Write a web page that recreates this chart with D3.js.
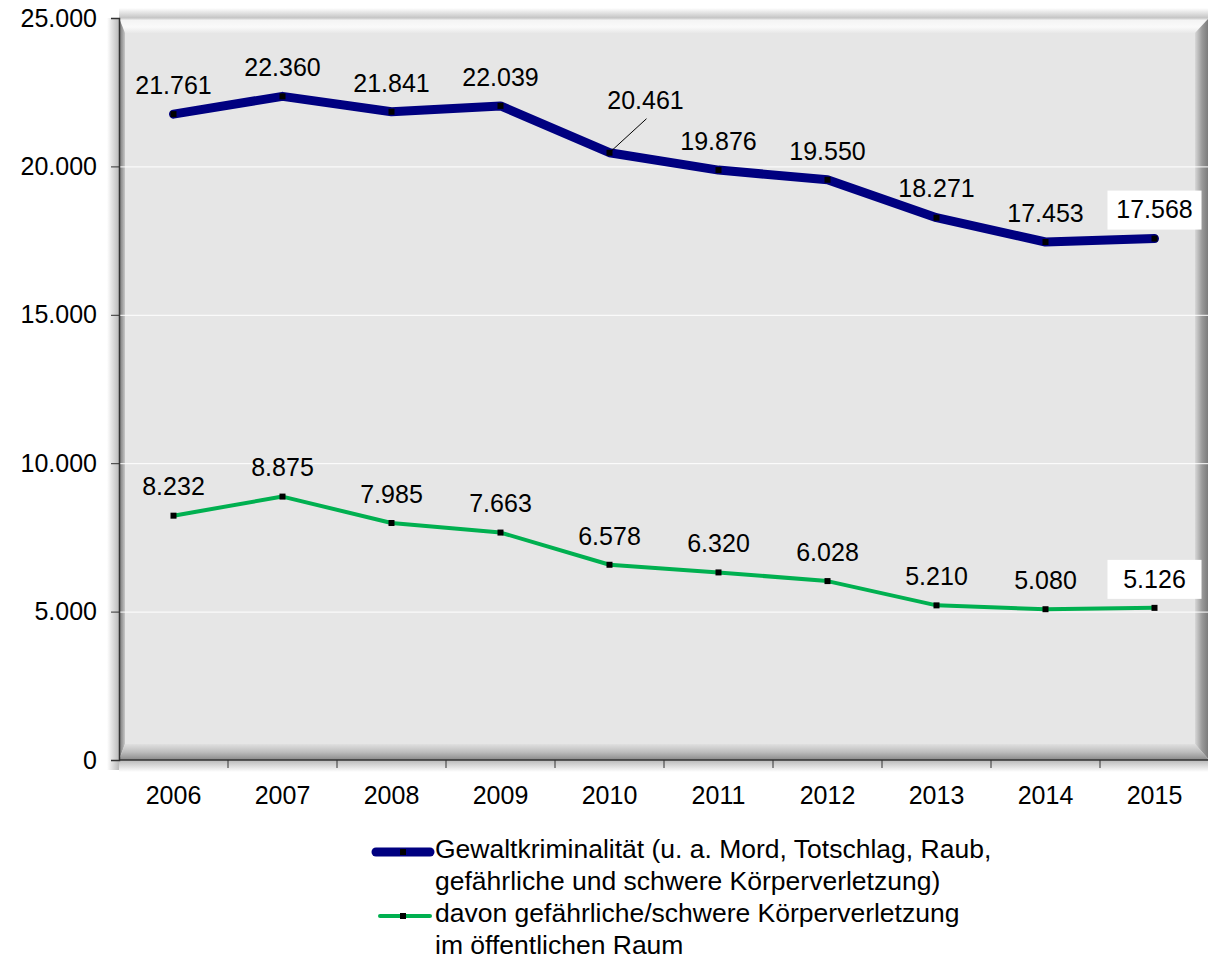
<!DOCTYPE html>
<html>
<head>
<meta charset="utf-8">
<script src="https://cdn.jsdelivr.net/npm/d3@7/dist/d3.min.js"></script>
<style>
html,body{margin:0;padding:0;background:#fff;}
svg{display:block;font-family:"Liberation Sans",Arial,sans-serif;}
</style>
</head>
<body>
<svg id="chart" width="1208" height="960"></svg>
<script>
const years = ["2006","2007","2008","2009","2010","2011","2012","2013","2014","2015"];
const gewalt = [21761,22360,21841,22039,20461,19876,19550,18271,17453,17568];
const koerper = [8232,8875,7985,7663,6578,6320,6028,5210,5080,5126];
const yTicks = [0,5000,10000,15000,20000,25000];
const seriesNames = [
  ["Gewaltkriminalität (u. a. Mord, Totschlag, Raub,","gefährliche und schwere Körperverletzung)"],
  ["davon gefährliche/schwere Körperverletzung","im öffentlichen Raum"]
];

const svg = d3.select("#chart");
const L = 119, R = 1209, T = 18, B = 760;
const x = d3.scaleBand().domain(years).range([L, R]);
const y = d3.scaleLinear().domain([0, 25000]).range([B, T]);
const fmt = v => d3.format(",")(v).replace(/,/g, ".");

const defs = svg.append("defs");
function lg(id, x1, y1, x2, y2, stops) {
  const g = defs.append("linearGradient").attr("id", id)
    .attr("x1", x1).attr("y1", y1).attr("x2", x2).attr("y2", y2);
  stops.forEach(s => g.append("stop").attr("offset", s[0]).attr("stop-color", s[1]));
}
lg("gTop", 0, 0, 0, 1, [[0, "#c8c8c8"], [0.15, "#f4f4f4"], [0.6, "#fafafa"], [1, "#e8e8e8"]]);
lg("gLeft", 0, 0, 1, 0, [[0, "#7a7a7a"], [0.5, "#999"], [1, "#c8c8c8"]]);
lg("gRight", 0, 0, 1, 0, [[0, "#d8d8d8"], [0.5, "#9a9a9a"], [1, "#777"]]);
lg("gBot", 0, 0, 0, 1, [[0, "#e0e0e0"], [0.5, "#bdbdbd"], [1, "#8a8a8a"]]);
lg("shL", 0, 0, 1, 0, [[0, "#fff"], [1, "#bbb"]]);
lg("shT", 0, 0, 0, 1, [[0, "#fff"], [1, "#c4c4c4"]]);
lg("shB", 0, 0, 0, 1, [[0, "#b8b8b8"], [1, "#fff"]]);

// outer shadows
svg.append("rect").attr("x", L - 12).attr("y", T).attr("width", 12).attr("height", B - T + 10).attr("fill", "url(#shL)");
svg.append("rect").attr("x", L).attr("y", T - 10).attr("width", R - L).attr("height", 10).attr("fill", "url(#shT)");
svg.append("rect").attr("x", L).attr("y", B).attr("width", R - L).attr("height", 12).attr("fill", "url(#shB)");

// plot face
svg.append("rect").attr("x", L).attr("y", T).attr("width", R - L).attr("height", B - T).attr("fill", "#e6e6e6");
const bt = 15, bl = 6, br = 14, bb = 16;
const pts = a => a.map(p => p.join(",")).join(" ");
svg.append("polygon").attr("points", pts([[L, T], [R, T], [R - br, T + bt], [L + bl, T + bt]])).attr("fill", "url(#gTop)");
svg.append("polygon").attr("points", pts([[L, T], [L + bl, T + bt], [L + bl, B - bb], [L, B]])).attr("fill", "url(#gLeft)");
svg.append("polygon").attr("points", pts([[R, T], [R, B], [R - br, B - bb], [R - br, T + bt]])).attr("fill", "url(#gRight)");
svg.append("polygon").attr("points", pts([[L, B], [L + bl, B - bb], [R - br, B - bb], [R, B]])).attr("fill", "url(#gBot)");

// gridlines
svg.append("g").selectAll("line").data(yTicks.filter(d => d > 0 && d < 25000)).join("line")
  .attr("x1", L).attr("x2", R).attr("y1", d => y(d) + 0.5).attr("y2", d => y(d) + 0.5)
  .attr("stroke", "#fff").attr("stroke-width", 1);

// axes
const yAxis = d3.axisLeft(y).tickValues(yTicks).tickFormat(fmt).tickSize(8).tickPadding(14);
const gy = svg.append("g").attr("transform", `translate(${L},0)`).call(yAxis);
gy.select(".domain").attr("stroke", "#333").attr("stroke-width", 1.5);
gy.selectAll(".tick line").attr("stroke", "#333");
gy.selectAll("text").attr("font-size", 25).attr("fill", "#000").attr("font-family", "Liberation Sans, Arial, sans-serif");

const gx = svg.append("g").attr("transform", `translate(0,${B})`);
gx.append("line").attr("x1", L).attr("x2", R).attr("y1", 0).attr("y2", 0).attr("stroke", "#333").attr("stroke-width", 1.5);
gx.selectAll("line.tk").data(years.slice(1)).join("line").attr("class", "tk")
  .attr("x1", d => x(d)).attr("x2", d => x(d)).attr("y1", 0).attr("y2", 8).attr("stroke", "#333");
gx.selectAll("text").data(years).join("text")
  .attr("x", d => x(d) + x.bandwidth() / 2).attr("y", 44)
  .attr("text-anchor", "middle").attr("font-size", 25).text(d => d);

const cx = d => x(d) + x.bandwidth() / 2;
const series = [
  {vals: gewalt, color: "#000080", width: 9},
  {vals: koerper, color: "#00b050", width: 4}
];
const line = d3.line().x(d => cx(d.year)).y(d => y(d.v));

series.forEach((s, si) => {
  const data = years.map((yr, i) => ({year: yr, v: s.vals[i], i}));
  svg.append("path").datum(data).attr("d", line).attr("fill", "none")
    .attr("stroke", s.color).attr("stroke-width", s.width)
    .attr("stroke-linejoin", "round").attr("stroke-linecap", "round");
  svg.append("g").selectAll("rect").data(data).join("rect")
    .attr("x", d => cx(d.year) - 3).attr("y", d => y(d.v) - 3)
    .attr("width", 6).attr("height", 6).attr("fill", "#000");
  const lab = svg.append("g").selectAll("g").data(data).join("g");
  lab.each(function(d) {
    const g = d3.select(this);
    let lx = cx(d.year), ly = y(d.v) - 29;
    const leader = (si === 0 && d.year === "2010");
    if (leader) { lx += 36; ly = y(d.v) - 52; }
    const last = d.i === years.length - 1;
    if (last) {
      g.append("rect").attr("x", lx - 47).attr("y", ly - 19).attr("width", 94).attr("height", 39).attr("fill", "#fff");
    }
    g.append("text").attr("x", lx).attr("y", ly).attr("dy", "0.35em")
      .attr("text-anchor", "middle").attr("font-size", 25).text(fmt(d.v));
    if (leader) {
      g.append("line").attr("x1", lx + 1).attr("y1", ly + 18).attr("x2", cx(d.year) + 1).attr("y2", y(d.v) - 1)
        .attr("stroke", "#000").attr("stroke-width", 1);
    }
  });
});

// legend
const leg = svg.append("g");
const legY = [852, 916];
series.forEach((s, si) => {
  const yy = legY[si];
  const x1 = si === 0 ? 376 : 380;
  leg.append("line").attr("x1", x1).attr("x2", 430).attr("y1", yy).attr("y2", yy)
    .attr("stroke", s.color).attr("stroke-width", s.width).attr("stroke-linecap", "round");
  leg.append("rect").attr("x", 400).attr("y", yy - 3).attr("width", 6).attr("height", 6).attr("fill", "#000");
  seriesNames[si].forEach((t, li) => {
    leg.append("text").attr("x", 435).attr("y", yy + 6 + li * 32)
      .attr("font-size", 26.5).text(t);
  });
});
</script>
</body>
</html>
